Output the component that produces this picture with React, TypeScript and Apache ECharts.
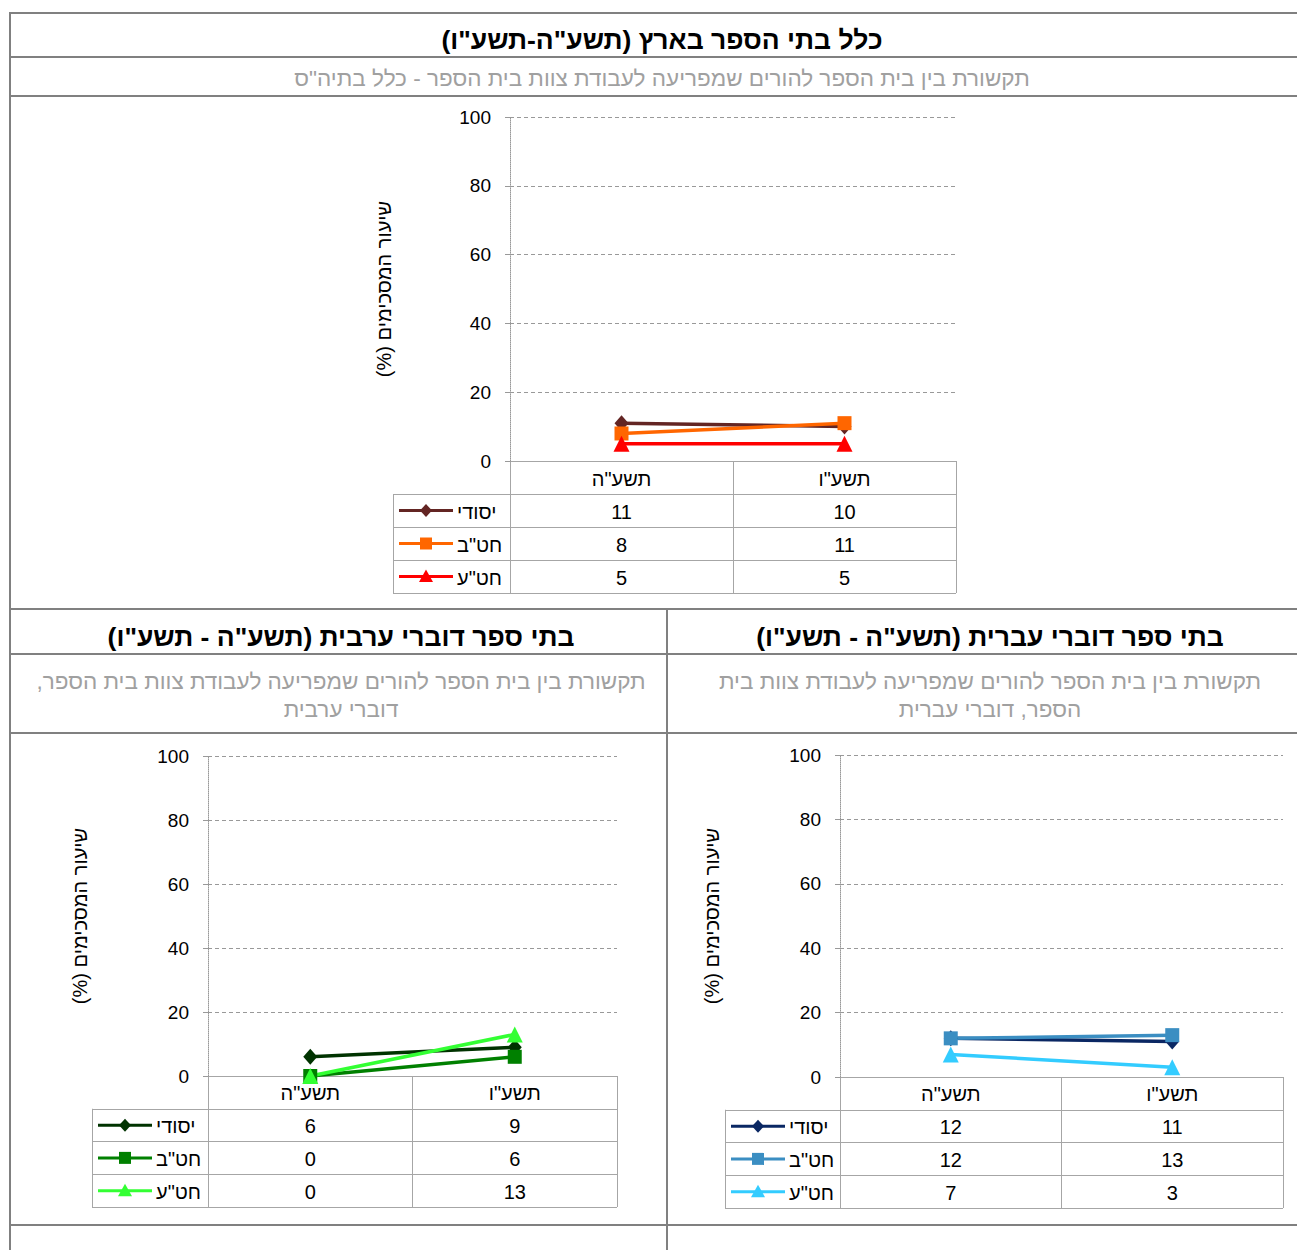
import React, { useEffect, useRef } from 'react';
import * as echarts from 'echarts';

// ---------- data ----------
const years = ['תשע"ה', 'תשע"ו'];
const levels = ['יסודי', 'חט"ב', 'חט"ע'];

const allYesodi = [11, 10];
const allHatab = [8, 11];
const allHatae = [5, 5];

const arabYesodi = [6, 9];
const arabHatab = [0, 6];
const arabHatae = [0, 13];

const hebYesodi = [12, 11];
const hebHatab = [12, 13];
const hebHatae = [7, 3];

const yMin = 0;
const yMax = 100;
const yStep = 20;

const yName = 'שיעור המסכימים (%)';

// ---------- styles / layout ----------
const FONT = '"Liberation Sans", "DejaVu Sans", Arial, sans-serif';
const TABLE = '#a6a6a6';
const BORDER = '#808080';
const RLM = '\u200F';
const rtl = (s: string) => s.split('\n').map((l) => RLM + l + RLM).join('\n');

const panels = [
  {
    title: 'כלל בתי הספר בארץ (תשע"ה-תשע"ו)',
    subtitle: 'תקשורת בין בית הספר להורים שמפריעה לעבודת צוות בית הספר - כלל בתיה"ס',
    cx: 662, titleY: 40, subY: 78,
    plot: [510, 117, 446, 344], tableH: 132, keyLeft: 393, nameGap: 116,
    colors: ['#632523', '#ff6600', '#ff0000'],
    series: [allYesodi, allHatab, allHatae],
  },
  {
    title: 'בתי ספר דוברי ערבית (תשע"ה - תשע"ו)',
    subtitle: 'תקשורת בין בית הספר להורים שמפריעה לעבודת צוות בית הספר,\nדוברי ערבית',
    cx: 341, titleY: 637, subY: 695,
    plot: [208, 756, 409, 320], tableH: 131, keyLeft: 92, nameGap: 118,
    colors: ['#003300', '#008000', '#33ff33'],
    series: [arabYesodi, arabHatab, arabHatae],
  },
  {
    title: 'בתי ספר דוברי עברית (תשע"ה - תשע"ו)',
    subtitle: 'תקשורת בין בית הספר להורים שמפריעה לעבודת צוות בית\nהספר, דוברי עברית',
    cx: 990, titleY: 637, subY: 695,
    plot: [840, 755, 443, 322], tableH: 131, keyLeft: 725, nameGap: 118,
    colors: ['#0a2763', '#3b8ec2', '#33ccff'],
    series: [hebYesodi, hebHatab, hebHatae],
  },
];

const symbols = ['diamond', 'rect', 'triangle'];
const symbolSizes: any[] = [[14, 16], 14, 16];

function markerShape(k: number, x: number, y: number, color: string) {
  if (k === 0) {
    return { type: 'polygon', shape: { points: [[x, y - 6.5], [x + 6, y], [x, y + 6.5], [x - 6, y]] }, style: { fill: color } };
  }
  if (k === 1) {
    return { type: 'rect', shape: { x: x - 6, y: y - 6, width: 12, height: 12 }, style: { fill: color } };
  }
  return { type: 'polygon', shape: { points: [[x, y - 7], [x + 7, y + 5.5], [x - 7, y + 5.5]] }, style: { fill: color } };
}

function buildOption() {
  const grid: any[] = [];
  const xAxis: any[] = [];
  const yAxis: any[] = [];
  const series: any[] = [];
  const title: any[] = [];

  const hiddenCat = (gridIndex: number, data: string[], inverse = false) => ({
    type: 'category',
    gridIndex,
    data,
    inverse,
    boundaryGap: true,
    axisLine: { show: false },
    axisTick: { show: false },
    axisLabel: { show: false, interval: 0 },
    splitLine: { show: true, interval: 0, lineStyle: { color: TABLE, width: 1 } },
  });

  panels.forEach((p, i) => {
    const [L, T, W, H] = p.plot;
    const rowH = p.tableH / 4;
    const g = i * 3;

    grid.push({ left: L, top: T, width: W, height: H, outerBoundsMode: 'none' });
    grid.push({ left: L, top: T + H, width: W, height: p.tableH, outerBoundsMode: 'none' });
    grid.push({ left: p.keyLeft, top: T + H + rowH, width: L - p.keyLeft, height: p.tableH - rowH, outerBoundsMode: 'none' });

    xAxis.push({
      type: 'category', gridIndex: g, data: years, boundaryGap: true,
      axisLine: { show: false }, axisTick: { show: false }, axisLabel: { show: false }, splitLine: { show: false },
    });
    xAxis.push(hiddenCat(g + 1, years));
    xAxis.push(hiddenCat(g + 2, ['']));

    yAxis.push({
      type: 'value', gridIndex: g, min: yMin, max: yMax, interval: yStep,
      name: rtl(yName), nameLocation: 'middle', nameRotate: 90, nameGap: p.nameGap,
      nameTextStyle: { fontSize: 20, color: '#000', fontFamily: FONT },
      axisLine: { show: true, lineStyle: { color: '#999', type: 'dotted', width: 1 } },
      axisTick: { show: true, length: 5, inside: false, lineStyle: { color: '#999' } },
      axisLabel: { fontSize: 19, color: '#000', margin: 19, fontFamily: FONT },
      splitLine: { show: true, lineStyle: { color: '#999', type: [4, 3], width: 1 } },
    });
    yAxis.push(hiddenCat(g + 1, ['hdr', ...levels], true));
    yAxis.push(hiddenCat(g + 2, levels, true));

    // line series
    p.series.forEach((vals, k) => {
      series.push({
        type: 'line', name: levels[k], xAxisIndex: g, yAxisIndex: g, data: vals,
        symbol: symbols[k], symbolSize: symbolSizes[k], showAllSymbol: true,
        lineStyle: { width: 3.5, color: p.colors[k] }, itemStyle: { color: p.colors[k] },
        z: 5, silent: true,
      });
    });

    // data table cells
    const cellText: string[] = [];
    const cellData: number[][] = [];
    years.forEach((y, c) => { cellData.push([c, 0]); cellText.push(rtl(y)); });
    p.series.forEach((vals, r) => vals.forEach((v, c) => { cellData.push([c, r + 1]); cellText.push(String(v)); }));
    series.push({
      type: 'custom', xAxisIndex: g + 1, yAxisIndex: g + 1, data: cellData, encode: { x: 0, y: 1 }, silent: true,
      renderItem: (params: any, api: any) => {
        const pt = api.coord([api.value(0), api.value(1)]);
        return {
          type: 'text', x: pt[0], y: pt[1] + 1,
          style: { text: cellText[params.dataIndex], align: 'center', verticalAlign: 'middle', fontSize: 20, fontFamily: FONT, fill: '#000' },
        };
      },
    });

    // legend keys column
    series.push({
      type: 'custom', xAxisIndex: g + 2, yAxisIndex: g + 2, data: levels.map((_, r) => [0, r]), encode: { x: 0, y: 1 }, silent: true,
      renderItem: (params: any, api: any) => {
        const r = api.value(1);
        const pt = api.coord([0, r]);
        const sz = api.size([1, 1]);
        const left = pt[0] - sz[0] / 2;
        const y = pt[1];
        const color = p.colors[r];
        return {
          type: 'group',
          children: [
            { type: 'line', shape: { x1: left + 6, y1: y, x2: left + 60, y2: y }, style: { stroke: color, lineWidth: 3 } },
            markerShape(r, left + 33, y, color),
            { type: 'text', x: left + 64, y: y + 1, style: { text: rtl(levels[r]), align: 'left', verticalAlign: 'middle', fontSize: 20, fontFamily: FONT, fill: '#000' } },
          ],
        };
      },
    });

    title.push({
      text: rtl(p.title), left: p.cx, top: p.titleY, textAlign: 'center', textVerticalAlign: 'middle', padding: 0,
      textStyle: { fontSize: 26.5, fontWeight: 'bold', color: '#000', fontFamily: FONT },
    });
    title.push({
      text: rtl(p.subtitle), left: p.cx, top: p.subY, textAlign: 'center', textVerticalAlign: 'middle', padding: 0,
      textStyle: { fontSize: 22.5, fontWeight: 'normal', color: '#a0a0a0', lineHeight: 28, fontFamily: FONT },
    });
  });

  const hLines = [13, 57, 96, 609, 654, 733, 1225];
  const graphic: any[] = hLines.map((y) => ({
    type: 'line', silent: true, shape: { x1: 10, y1: y, x2: 1297, y2: y }, style: { stroke: BORDER, lineWidth: 2 },
  }));
  graphic.push({ type: 'line', silent: true, shape: { x1: 10, y1: 12, x2: 10, y2: 1250 }, style: { stroke: BORDER, lineWidth: 2 } });
  graphic.push({ type: 'line', silent: true, shape: { x1: 667, y1: 609, x2: 667, y2: 1250 }, style: { stroke: BORDER, lineWidth: 2 } });

  return {
    animation: false,
    backgroundColor: '#ffffff',
    textStyle: { fontFamily: FONT },
    title,
    grid,
    xAxis,
    yAxis,
    series,
    graphic,
  };
}

export default function App() {
  const ref = useRef<HTMLDivElement>(null);
  useEffect(() => {
    const chart = echarts.init(ref.current!, null, { renderer: 'svg' });
    chart.setOption(buildOption() as any);
    return () => chart.dispose();
  }, []);
  return <div ref={ref} style={{ position: 'absolute', left: 0, top: 0, width: 1297, height: 1250 }} />;
}
